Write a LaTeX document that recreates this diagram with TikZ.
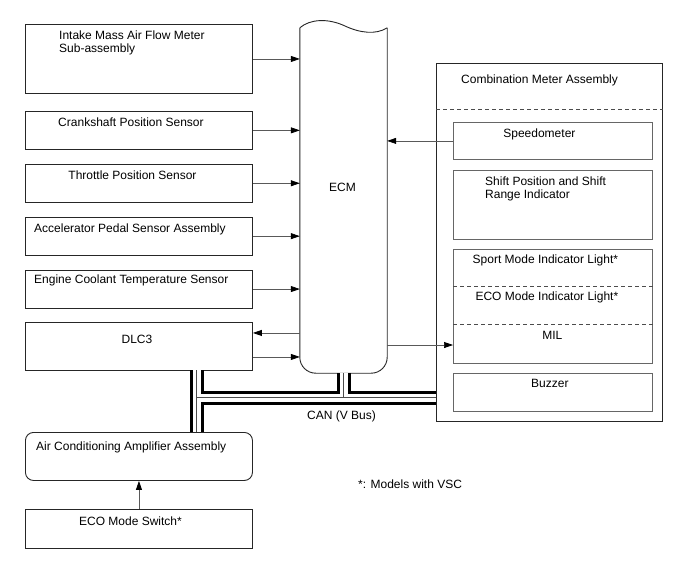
\documentclass[tikz,border=0pt]{standalone}
\usepackage{fontspec}
\setmainfont{Liberation Sans}
\usetikzlibrary{arrows.meta,positioning}
\tikzset{
  unit/.style={rectangle, draw=black!85, line width=0.9pt, inner sep=0pt,
               minimum width=227pt, anchor=north west},
  part/.style={rectangle, draw=black!60, line width=0.8pt, inner sep=0pt,
               minimum width=199pt, anchor=north west},
  txt/.style={font=\fontsize{12}{13.5}\selectfont, inner sep=0pt, anchor=base},
  ecmline/.style={draw=black!85, line width=0.9pt},
  sig/.style={-{Triangle[length=9pt,width=6pt,color=black]}, line width=0.7pt, draw=black!65},
  divider/.style={draw=black!70, line width=0.7pt, dash pattern=on 4pt off 3pt},
}

\begin{document}
\begin{tikzpicture}[x=1pt, y=-1pt]
  \useasboundingbox (0,0) rectangle (688,560);
  % sensors and units on the left
  \node[unit, minimum height=69pt] (intake) at (25,24) {};
  \node[unit, minimum height=38pt, below=17pt of intake] (crank) {};
  \node[unit, minimum height=38pt, below=14pt of crank] (throttle) {};
  \node[unit, minimum height=38pt, below=14pt of throttle] (accel) {};
  \node[unit, minimum height=38pt, below=14pt of accel] (coolant) {};
  \node[unit, minimum height=48pt, below=13pt of coolant] (dlc) {};
  \node[unit, minimum height=48pt, rounded corners=8pt] (ac) at (25,432) {};
  \node[unit, minimum height=39pt, below=28pt of ac] (ecosw) {};
  \node[txt, anchor=north west, align=left] (intake-t) at ([xshift=34pt, yshift=-6.5pt]intake.north west) {Intake Mass Air Flow Meter\\Sub-assembly};
  \node[txt] (crank-t) at ([xshift=-8pt, yshift=-15.3pt]crank.north) {Crankshaft Position Sensor};
  \node[txt] (throttle-t) at ([xshift=-6.5pt, yshift=-15.6pt]throttle.north) {Throttle Position Sensor};
  \node[txt, anchor=base west] (accel-t) at ([xshift=9pt, yshift=-15.3pt]accel.north west) {Accelerator Pedal Sensor Assembly};
  \node[txt, anchor=base west] (coolant-t) at ([xshift=9pt, yshift=-14.3pt]coolant.north west) {Engine Coolant Temperature Sensor};
  \node[txt] (dlc-t) at ([xshift=-2pt, yshift=-22.3pt]dlc.north) {DLC3};
  \node[txt, anchor=base west] (ac-t) at ([xshift=11pt, yshift=-18.3pt]ac.north west) {Air Conditioning Amplifier Assembly};
  \node[txt] (ecosw-t) at ([xshift=-8.5pt, yshift=-16.3pt]ecosw.north) {ECO Mode Switch*};

  % ECM
  \node[minimum width=87pt, minimum height=345pt, inner sep=0pt] (ecm) at (343.5,200.5) {};
  \draw[ecmline] (ecm.north west) .. controls (310,19) and (328,18) .. (345,26)
                 .. controls (360,33) and (376,35) .. (ecm.north east);
  \draw[ecmline, rounded corners=16pt] (ecm.north east) -- (ecm.south east) -- (ecm.south west) -- (ecm.north west);
  \node[txt] (ecm-t) at ([xshift=-1pt, yshift=9.2pt]ecm.center) {ECM};

  % combination meter
  \node[unit, minimum width=226pt, minimum height=358pt] (comb) at (436,63) {};
  \draw[divider] ([yshift=-46pt]comb.north west) -- ([yshift=-46pt]comb.north east);
  \node[txt, anchor=base west] (comb-t) at ([xshift=25pt, yshift=-20.3pt]comb.north west) {Combination Meter Assembly};
  \node[part, minimum height=37pt] (speedo) at (453,122) {};
  \node[part, minimum height=69pt, below=10pt of speedo] (shift) {};
  \node[part, minimum height=114pt, below=9pt of shift] (lamps) {};
  \node[part, minimum height=38pt, below=10pt of lamps] (buzzer) {};
  \draw[divider] ([yshift=-38pt]lamps.north west) -- ([yshift=-38pt]lamps.north east);
  \draw[divider] ([yshift=-76pt]lamps.north west) -- ([yshift=-76pt]lamps.north east);
  \node[txt] (speedo-t) at ([xshift=-13.5pt, yshift=-15.3pt]speedo.north) {Speedometer};
  \node[txt, anchor=north west, align=left] (shift-t) at ([xshift=32pt, yshift=-6.5pt]shift.north west) {Shift Position and Shift\\Range Indicator};
  \node[txt] (sport-t) at ([xshift=-7.5pt, yshift=-15.3pt]lamps.north) {Sport Mode Indicator Light*};
  \node[txt] (ecolamp-t) at ([xshift=-6pt, yshift=-52.3pt]lamps.north) {ECO Mode Indicator Light*};
  \node[txt] (mil-t) at ([xshift=-0.5pt, yshift=-91.3pt]lamps.north) {MIL};
  \node[txt] (buzzer-t) at ([xshift=-3pt, yshift=-14.3pt]buzzer.north) {Buzzer};

  % signal lines
  \foreach \n in {intake,crank,throttle,accel,coolant}
    \draw[sig] (\n.east) -- (\n.east -| ecm.west);
  \coordinate (dlc-in) at ([yshift=13pt]dlc.east);
  \coordinate (dlc-out) at ([yshift=-11pt]dlc.east);
  \draw[sig] (dlc-in -| ecm.west) -- (dlc-in);
  \draw[sig] (dlc-out) -- (dlc-out -| ecm.west);
  \draw[sig] (speedo.west) -- (speedo.west -| ecm.east);
  \coordinate (mil-in) at ([yshift=-39pt]lamps.west);
  \draw[sig] (mil-in -| ecm.east) -- (mil-in);
  \draw[sig] (ecosw.north) -- (ac.south);

  % CAN bus
  \coordinate (canL) at (196.5,397.5);
  \foreach \w/\c in {14/black, 8/white, 0.8/black!70}
    \draw[line width=\w pt, draw=\c] (canL |- dlc.south) -- (canL |- ac.north)
      (canL) -- (canL -| comb.west)
      (ecm.south) -- (ecm.south |- canL);
  \node[txt] (can-t) at (341.5,419.3) {CAN (V Bus)};
  \node[txt, anchor=base west] (note) at (358,488.3) {*: Models with VSC};
\end{tikzpicture}
\end{document}
